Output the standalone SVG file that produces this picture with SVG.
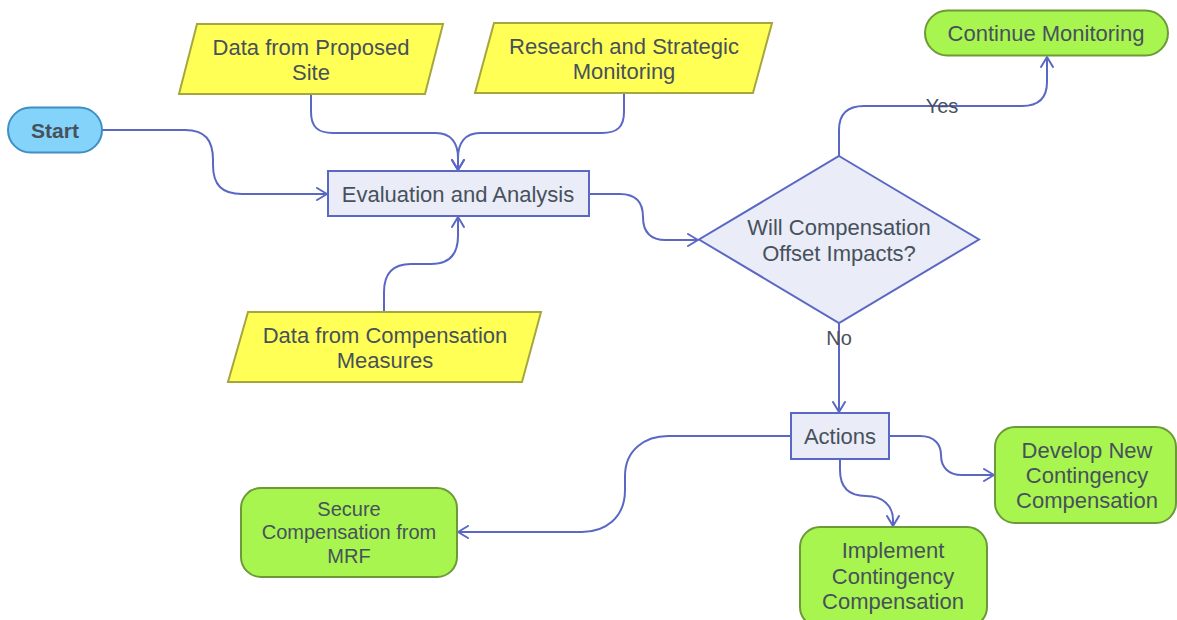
<svg xmlns="http://www.w3.org/2000/svg" width="1177" height="620" viewBox="0 0 1177 620">
  <defs>
    <marker id="arrow" viewBox="0 0 12 14" refX="11" refY="7" markerWidth="12" markerHeight="14" markerUnits="userSpaceOnUse" orient="auto">
      <path d="M1,1 L11,7 L1,13" fill="none" stroke="#5a68c4" stroke-width="2" stroke-linecap="round" stroke-linejoin="round"/>
    </marker>
    <style>
      text { font-family: "Liberation Sans", Arial, sans-serif; font-size: 22px; fill: #47515c; text-anchor: middle; }
      .start { fill: #84d3fa; stroke: #3f8fc4; stroke-width: 2; }
      .data { fill: #ffff55; stroke: #a6a63e; stroke-width: 2; }
      .proc { fill: #eaecf7; stroke: #5a68c4; stroke-width: 2; }
      .end { fill: #a7f54e; stroke: #6c9a38; stroke-width: 2; }
      .edge { fill: none; stroke: #5a68c4; stroke-width: 2; marker-end: url(#arrow); }
      .lbl { font-size: 20px; fill: #47515c; }
    </style>
  </defs>
  <rect width="1177" height="620" fill="#ffffff"/>

  <g id="connectors">
    <path class="edge" d="M102,130 H185 C205,130 213,140 213,160 V165 C213,185 222,194 242,194 H327"/>
    <path class="edge" d="M311,94 V112 C311,127 318,133 333,133 H436 C451,133 458,143 458,158 V170"/>
    <path class="edge" d="M624,94 V112 C624,127 617,133 602,133 H480 C465,133 458,143 458,158 V170"/>
    <path class="edge" d="M384,312 V292 C384,274 393,264 411,264 H431 C449,264 458,254 458,236 V217"/>
    <path class="edge" d="M589,194 H620 C635,194 643,202 643,217 C643,232 651,240 666,240 H698"/>
    <path class="edge" d="M839,156 V130 C839,114 848,106 864,106 H1022 C1038,106 1047,98 1047,82 V57"/>
    <path class="edge" d="M839,323 V412"/>
    <path class="edge" d="M791,436 H668 C645,436 625,450 625,476 V490 C625,518 605,532 582,532 H458"/>
    <path class="edge" d="M889,436 H920 C935,436 941,445 941,455 C941,467 948,475 962,475 H994"/>
    <path class="edge" d="M840,459 V470 C840,488 850,496 866,496 C883,496 893,506 893,520 V526"/>
    <text class="lbl" x="942" y="113">Yes</text>
    <text class="lbl" x="839" y="345">No</text>
  </g>

  <g id="start">
    <rect class="start" x="8" y="107.5" width="94" height="45" rx="22.5"/>
    <text x="55" y="138" style="font-weight:bold;font-size:21px">Start</text>
  </g>

  <g id="data-proposed-site">
    <polygon class="data" points="197,24 443,24 425,94 179,94"/>
    <text x="311" y="55">Data from Proposed</text>
    <text x="311" y="80">Site</text>
  </g>

  <g id="research-monitoring">
    <polygon class="data" points="494,23 772,23 753,93 475,93"/>
    <text x="624" y="54">Research and Strategic</text>
    <text x="624" y="79">Monitoring</text>
  </g>

  <g id="data-compensation">
    <polygon class="data" points="248,312 541,312 522,382 228,382"/>
    <text x="385" y="343">Data from Compensation</text>
    <text x="385" y="368">Measures</text>
  </g>

  <g id="evaluation">
    <rect class="proc" x="328" y="171" width="261" height="45"/>
    <text x="458" y="202">Evaluation and Analysis</text>
  </g>

  <g id="decision">
    <polygon class="proc" points="839,156 979,239.5 839,323 699,239.5"/>
    <text x="839" y="235">Will Compensation</text>
    <text x="839" y="261">Offset Impacts?</text>
  </g>

  <g id="continue-monitoring">
    <rect class="end" x="925" y="10.5" width="243" height="45" rx="22.5"/>
    <text x="1046" y="41">Continue Monitoring</text>
  </g>

  <g id="actions">
    <rect class="proc" x="791" y="413" width="98" height="46"/>
    <text x="840" y="444">Actions</text>
  </g>

  <g id="secure-mrf">
    <rect class="end" x="241" y="488" width="216" height="89" rx="20"/>
    <text x="349" y="516" style="font-size:20px">Secure</text>
    <text x="349" y="539" style="font-size:20px">Compensation from</text>
    <text x="349" y="563" style="font-size:20px">MRF</text>
  </g>

  <g id="develop-new">
    <rect class="end" x="995" y="427" width="181" height="96" rx="20"/>
    <text x="1087" y="458">Develop New</text>
    <text x="1087" y="483">Contingency</text>
    <text x="1087" y="508">Compensation</text>
  </g>

  <g id="implement">
    <rect class="end" x="800" y="527" width="187" height="100" rx="20"/>
    <text x="893" y="558">Implement</text>
    <text x="893" y="584">Contingency</text>
    <text x="893" y="609">Compensation</text>
  </g>
</svg>
